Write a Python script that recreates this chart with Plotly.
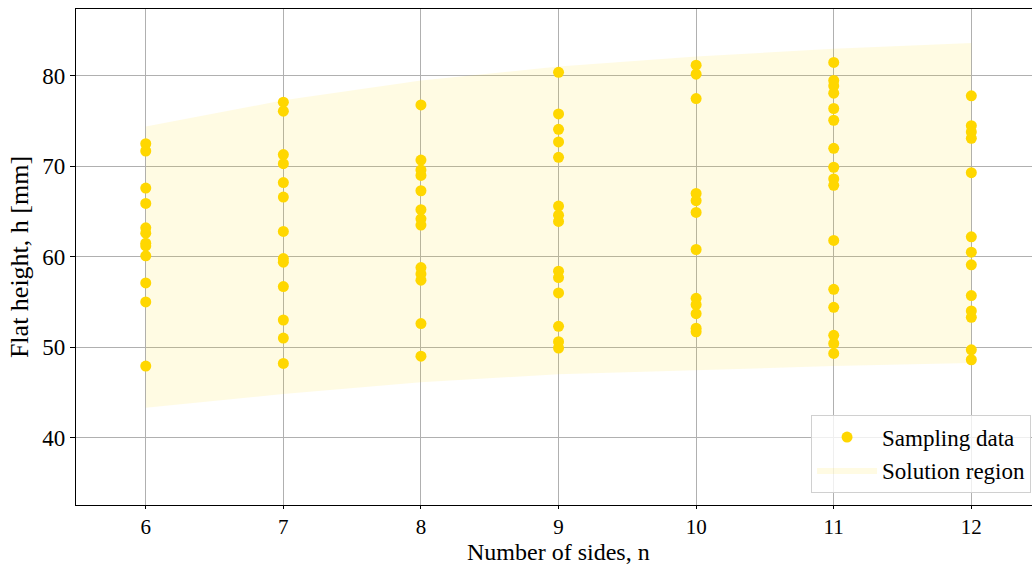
import plotly.graph_objects as go

# Sampled flat heights h [mm] for each number of sides n
n_sides = [6, 7, 8, 9, 10, 11, 12]
h_n6 = [72.5, 71.7, 67.6, 65.9, 63.2, 62.6, 61.5, 61.2, 60.1, 57.1, 55.0, 47.9]
h_n7 = [77.1, 76.1, 71.3, 70.3, 68.2, 66.6, 62.8, 59.8, 59.4, 56.7, 53.0, 51.0, 48.2]
h_n8 = [76.8, 70.7, 69.6, 69.0, 67.3, 65.2, 64.2, 63.5, 58.8, 58.1, 57.4, 52.6, 49.0]
h_n9 = [80.4, 75.8, 74.1, 72.7, 71.0, 65.6, 64.6, 63.9, 58.4, 57.7, 56.0, 52.3, 50.6, 49.9]
h_n10 = [81.2, 80.2, 77.5, 67.0, 66.2, 64.9, 60.8, 55.4, 54.7, 53.7, 52.1, 51.7]
h_n11 = [81.5, 79.5, 78.9, 78.1, 76.4, 75.1, 72.0, 69.9, 68.6, 67.9, 61.8,
         56.4, 54.4, 51.3, 50.4, 49.3]
h_n12 = [77.8, 74.5, 73.8, 73.1, 69.3, 62.2, 60.5, 59.1, 55.7, 54.0, 53.3, 49.7, 48.6]

# Bounds of the feasible solution region
region_upper = [74.4, 77.3, 79.5, 81.05, 82.15, 83.0, 83.65]
region_lower = [43.3, 44.8, 46.1, 47.0, 47.45, 47.9, 48.25]

samples = [h_n6, h_n7, h_n8, h_n9, h_n10, h_n11, h_n12]
pts_x, pts_y = [], []
for n, hs in zip(n_sides, samples):
    pts_x += [n] * len(hs)
    pts_y += hs

FONT = "Liberation Serif"

fig = go.Figure()

fig.add_trace(go.Scatter(
    x=n_sides + n_sides[::-1],
    y=region_upper + region_lower[::-1],
    fill="toself",
    fillcolor="rgba(255,215,0,0.11)",
    line=dict(width=0, color="rgba(0,0,0,0)"),
    mode="lines",
    name="Solution region",
    hoverinfo="skip",
))

fig.add_trace(go.Scatter(
    x=pts_x, y=pts_y,
    mode="markers",
    marker=dict(color="#FFD700", size=11, line=dict(width=0)),
    name="Sampling data",
))

fig.update_layout(
    width=1032, height=565,
    margin=dict(l=76, r=0, t=9, b=60),
    plot_bgcolor="white", paper_bgcolor="white",
    font=dict(family=FONT, size=22, color="black"),
    showlegend=True,
    legend=dict(
        traceorder="reversed",
        x=0.999, xanchor="right", y=0.025, yanchor="bottom",
        bgcolor="rgba(255,255,255,0.8)",
        bordercolor="#d0d0d0", borderwidth=1,
        font=dict(family=FONT, size=23),
        itemwidth=60,
        tracegroupgap=0,
    ),
    annotations=[dict(
        text="Number of sides, n",
        xref="paper", yref="paper", x=0.505, y=0,
        xanchor="center", yanchor="middle", yshift=-47,
        showarrow=False, font=dict(family=FONT, size=24),
    )],
)

fig.update_xaxes(
    range=[5.493, 12.441],
    tickvals=n_sides, ticktext=[str(n) for n in n_sides],
    showgrid=True, gridcolor="#b0b0b0", gridwidth=1,
    zeroline=False,
    showline=True, linecolor="black", linewidth=1.2, mirror=True,
    ticks="outside", ticklen=3, tickcolor="black",
    tickfont=dict(family=FONT, size=21),
)

fig.update_yaxes(
    range=[32.53, 87.41],
    tickvals=[40, 50, 60, 70, 80],
    showgrid=True, gridcolor="#b0b0b0", gridwidth=1,
    zeroline=False,
    showline=True, linecolor="black", linewidth=1.2, mirror=False,
    ticks="outside", ticklen=5, tickcolor="black",
    tickfont=dict(family=FONT, size=23),
    title=dict(text="Flat height, h [mm]", font=dict(family=FONT, size=26), standoff=6),
)

fig.write_html("out.html")
